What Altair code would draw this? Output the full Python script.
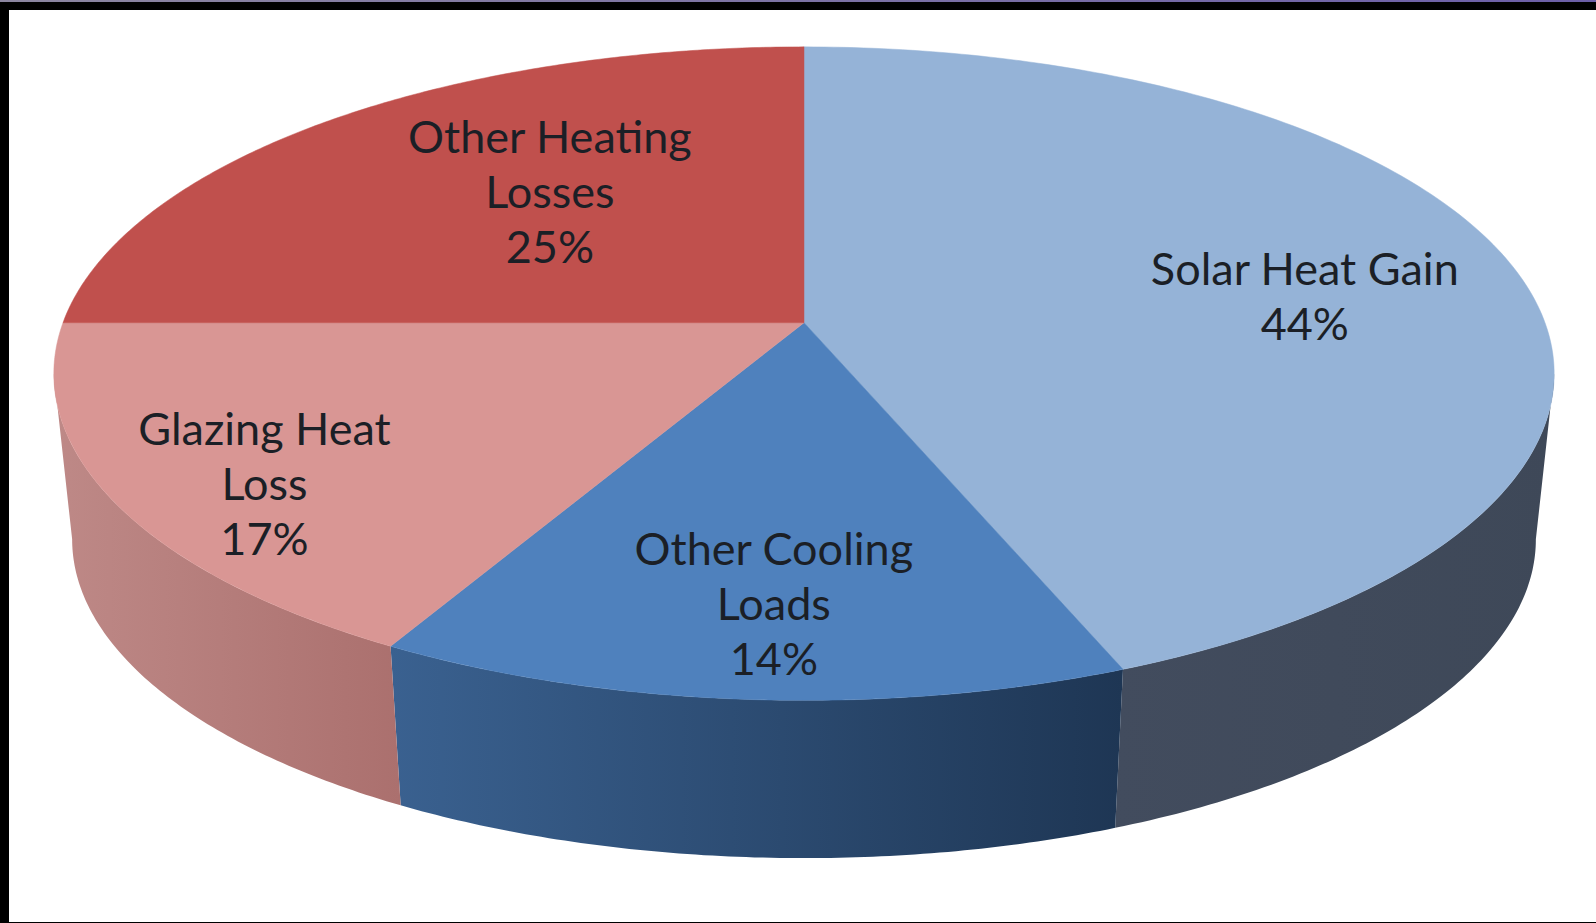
import altair as alt
import numpy as np
import pandas as pd

# Slices, clockwise from twelve o'clock
categories = ["Solar Heat Gain", "Other Cooling\nLoads", "Glazing Heat\nLoss", "Other Heating\nLosses"]
shares = [44, 14, 17, 25]
top_colors = ["#95B3D7", "#4F81BD", "#D99694", "#C0504D"]
wall_colors = [
    ["#424C5E", "#3E4858"],
    ["#3A6190", "#1E3654"],
    ["#BE8987", "#AB706E"],
    None,
]

# Anchor of each caption's first line on the disc: (radius, bearing in degrees)
label_anchors = [(0.7167, 75.7), (0.637, 183.3), (0.76, 245.7), (0.7456, 329.6)]

WIDTH, HEIGHT = 1596, 923
CENTER_X, CENTER_Y = 804.0, 322.7   # where the disc centre lands on the page
SPAN_X, SPAN_Y = 741.0, 318.8       # page size of one disc radius
TILT = 0.1558                       # perspective strength
BASE_SCALE = 0.9756                 # the lower rim is slightly smaller
BASE_DROP = 167.0 / SPAN_Y          # drop of the lower rim, in disc units


def project(radius, bearing, scale=1.0, drop=0.0):
    """Perspective view of a polar point on the disc."""
    rad = np.radians(bearing)
    u, v = radius * np.sin(rad), radius * np.cos(rad)
    w = 1 + TILT * v
    return scale * u / w, scale * v / w - drop


x_scale = alt.Scale(domain=[-CENTER_X / SPAN_X, (WIDTH - CENTER_X) / SPAN_X], range=[0, WIDTH], nice=False, zero=False)
y_scale = alt.Scale(domain=[(CENTER_Y - HEIGHT) / SPAN_Y, CENTER_Y / SPAN_Y], range=[HEIGHT, 0], nice=False, zero=False)
x_enc = alt.X("x:Q", scale=x_scale, axis=None)
y_enc = alt.Y("y:Q", scale=y_scale, axis=None)


def outline(points):
    xs, ys = zip(*points)
    return pd.DataFrame({"x": xs, "y": ys, "step": range(len(xs))})


def polygon(frame, **style):
    return alt.Chart(frame).mark_line(interpolate="linear-closed", **style).encode(
        x=x_enc, y=y_enc, order=alt.Order("step:Q")
    )


edges = np.cumsum([0] + shares) * 3.6
# Bearings where the rim turns away from the viewer
rim_right = np.degrees(np.arccos(-TILT))
rim_left = 360 - rim_right

layers = []

# Side wall of every slice that faces the viewer
for i, colors in enumerate(wall_colors):
    if colors is None:
        continue
    start = max(edges[i], rim_right)
    end = min(edges[i + 1], rim_left)
    sweep = np.linspace(start, end, 90)
    top_rim = [project(1, b) for b in sweep]
    low_rim = [project(1, b, BASE_SCALE, BASE_DROP) for b in sweep[::-1]]
    fill = alt.Gradient(
        gradient="linear", x1=0, x2=1, y1=0, y2=0,
        stops=[alt.GradientStop(color=colors[0], offset=0), alt.GradientStop(color=colors[1], offset=1)],
    )
    layers.append(polygon(outline(top_rim + low_rim), fill=fill, stroke=None, strokeWidth=0))

# Top face of every slice
for i, color in enumerate(top_colors):
    sweep = np.linspace(edges[i], edges[i + 1], 180)
    layers.append(polygon(outline([project(0, 0)] + [project(1, b) for b in sweep]), fill=color, stroke=color, strokeWidth=0.5))

# Slice captions
captions = pd.DataFrame({
    "x": [project(r, b)[0] for r, b in label_anchors],
    "y": [project(r, b)[1] for r, b in label_anchors],
    "caption": [f"{name}\n{share}%" for name, share in zip(categories, shares)],
})
layers.append(
    alt.Chart(captions).mark_text(
        font="Lato", fontSize=45, color="#1B1F26", lineBreak="\n", lineHeight=55, baseline="middle", align="center", dy=3
    ).encode(x=x_enc, y=y_enc, text="caption:N")
)

# Black frame around the picture, with a thin tinted strip above it
frame_bars = [
    dict(x=0, x2=WIDTH, y=2, y2=10, color="#000000"),
    dict(x=0, x2=9, y=0, y2=HEIGHT, color="#000000"),
    dict(x=0, x2=WIDTH, y=922, y2=HEIGHT, color="#000000"),
]
for bar in frame_bars:
    layers.append(
        alt.Chart(pd.DataFrame({"k": [0]})).mark_rect(color=bar["color"]).encode(
            x=alt.value(bar["x"]), x2=alt.value(bar["x2"]), y=alt.value(bar["y"]), y2=alt.value(bar["y2"])
        )
    )
strip_fill = alt.Gradient(
    gradient="linear", x1=0, x2=1, y1=0, y2=0,
    stops=[alt.GradientStop(color="#8C86A0", offset=0), alt.GradientStop(color="#6C5FA8", offset=1)],
)
layers.append(
    alt.Chart(pd.DataFrame({"k": [0]})).mark_rect(fill=strip_fill).encode(
        x=alt.value(0), x2=alt.value(WIDTH), y=alt.value(0), y2=alt.value(2)
    )
)

chart = (
    alt.layer(*layers)
    .properties(width=WIDTH, height=HEIGHT, padding=0, background="#FFFFFF", autosize=alt.AutoSizeParams(type="none"))
    .configure_view(stroke=None)
)

chart.save("out.html", embed_options={"renderer": "svg", "actions": False})
